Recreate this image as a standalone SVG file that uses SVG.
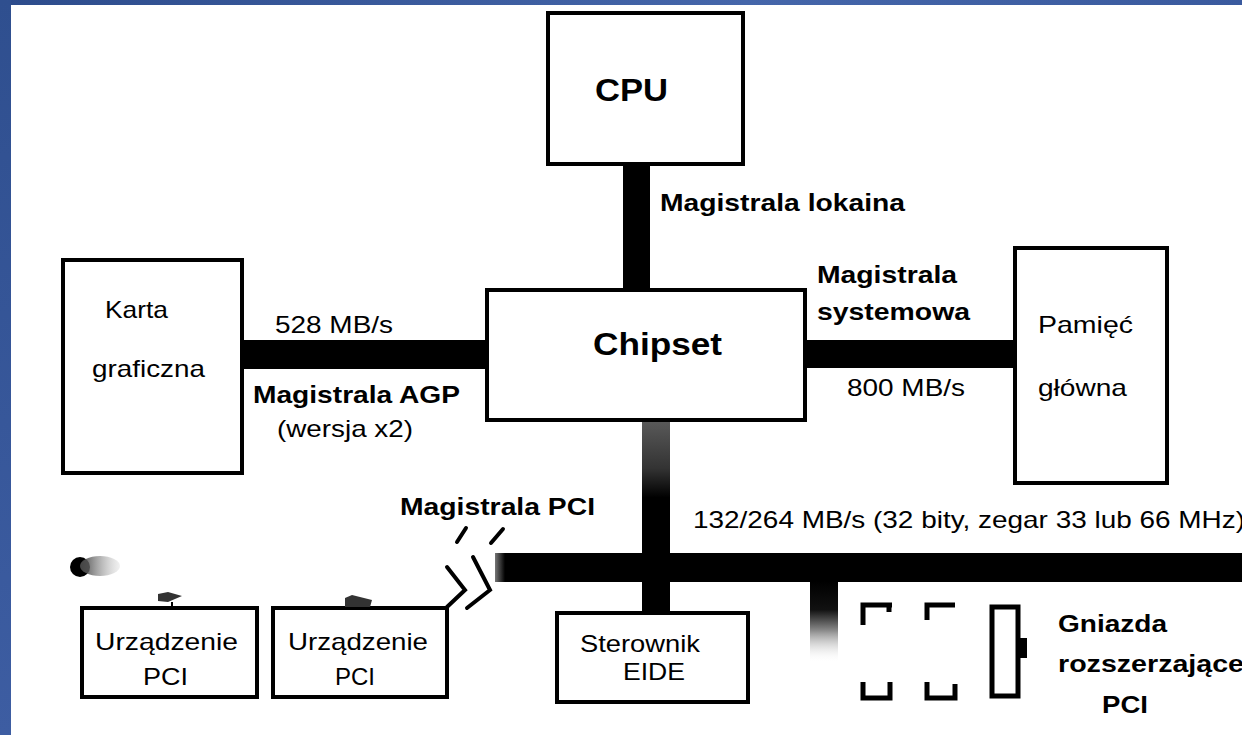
<svg xmlns="http://www.w3.org/2000/svg" width="1242" height="735" viewBox="0 0 1242 735">
<defs>
<linearGradient id="blue" x1="0" y1="0" x2="1" y2="0">
<stop offset="0" stop-color="#2d4c8c"/>
<stop offset="0.6" stop-color="#4566aa"/>
<stop offset="1" stop-color="#3a5a9e"/>
</linearGradient>
<linearGradient id="blueV" x1="0" y1="0" x2="0" y2="1">
<stop offset="0" stop-color="#2f4f8f"/>
<stop offset="1" stop-color="#3d5da2"/>
</linearGradient>
<linearGradient id="pciDown" x1="0" y1="0" x2="0" y2="1">
<stop offset="0" stop-color="#5a5a5a"/>
<stop offset="0.25" stop-color="#333"/>
<stop offset="0.4" stop-color="#000"/>
<stop offset="1" stop-color="#000"/>
</linearGradient>
<linearGradient id="stubFade" x1="0" y1="0" x2="0" y2="1">
<stop offset="0" stop-color="#000"/>
<stop offset="0.35" stop-color="#111"/>
<stop offset="0.6" stop-color="#888"/>
<stop offset="1" stop-color="#fff" stop-opacity="0"/>
</linearGradient>
<linearGradient id="blobFade" x1="0" y1="0" x2="1" y2="0">
<stop offset="0" stop-color="#444"/>
<stop offset="1" stop-color="#bbb" stop-opacity="0.2"/>
</linearGradient>
<linearGradient id="busEnd" x1="0" y1="0" x2="1" y2="0">
<stop offset="0" stop-color="#777"/>
<stop offset="1" stop-color="#000"/>
</linearGradient>
</defs>
<style>
.box{fill:#fff;stroke:#000;stroke-width:4}
.bus{fill:#000}
.t{font-family:"Liberation Sans",Arial,sans-serif;font-size:24px;fill:#000}
.b{font-family:"Liberation Sans",Arial,sans-serif;font-size:24px;font-weight:bold;fill:#000}
.big{font-size:31px}
.zz{fill:none;stroke:#000;stroke-width:4;stroke-linecap:round}
</style>
<rect x="0" y="0" width="1242" height="735" fill="#fff"/>
<rect x="0" y="0" width="1242" height="5" fill="url(#blue)"/>
<rect x="0" y="0" width="11" height="735" fill="url(#blueV)"/>

<g id="connectors">
<rect class="bus" x="623" y="164" width="27" height="127"/>
<rect class="bus" x="242" y="340" width="246" height="29"/>
<rect class="bus" x="804" y="340" width="212" height="28"/>
<rect x="642" y="420" width="28" height="194" fill="url(#pciDown)"/>
<rect class="bus" x="503" y="553" width="739" height="29"/>
<rect x="495" y="553" width="10" height="29" fill="url(#busEnd)"/>
<rect x="810" y="581" width="28" height="82" fill="url(#stubFade)"/>
<path class="zz" d="M457 542 L466 528 M491 543 L503 529"/>
<path class="zz" d="M447 567 L465 590 L447 607"/>
<path class="zz" d="M473 557 L490 590 L467 608"/>
</g>

<g id="cpu">
<rect class="box" x="548" y="13" width="195" height="151"/>
<text class="b big" x="595" y="101" textLength="73" lengthAdjust="spacingAndGlyphs">CPU</text>
</g>
<text class="b" x="660" y="211" textLength="245" lengthAdjust="spacingAndGlyphs">Magistrala lokaina</text>

<g id="chipset">
<rect class="box" x="487" y="290" width="318" height="130"/>
<text class="b big" x="593" y="355" textLength="129" lengthAdjust="spacingAndGlyphs">Chipset</text>
</g>

<g id="karta">
<rect class="box" x="63" y="260" width="179" height="213"/>
<text class="t" x="105" y="318" textLength="63" lengthAdjust="spacingAndGlyphs">Karta</text>
<text class="t" x="92" y="377" textLength="113" lengthAdjust="spacingAndGlyphs">graficzna</text>
</g>
<text class="t" x="275" y="333" textLength="118" lengthAdjust="spacingAndGlyphs">528 MB/s</text>
<text class="b" x="253" y="403" textLength="207" lengthAdjust="spacingAndGlyphs">Magistrala AGP</text>
<text class="t" x="277" y="437" textLength="136" lengthAdjust="spacingAndGlyphs">(wersja x2)</text>

<g id="pamiec">
<rect class="box" x="1015" y="248" width="152" height="235"/>
<text class="t" x="1038" y="333" textLength="95" lengthAdjust="spacingAndGlyphs">Pamięć</text>
<text class="t" x="1038" y="396" textLength="89" lengthAdjust="spacingAndGlyphs">główna</text>
</g>
<text class="b" x="817" y="283" textLength="140" lengthAdjust="spacingAndGlyphs">Magistrala</text>
<text class="b" x="817" y="320" textLength="153" lengthAdjust="spacingAndGlyphs">systemowa</text>
<text class="t" x="847" y="396" textLength="118" lengthAdjust="spacingAndGlyphs">800 MB/s</text>

<text class="b" x="400" y="515" textLength="195" lengthAdjust="spacingAndGlyphs">Magistrala PCI</text>
<text class="t" x="693" y="528" textLength="552" lengthAdjust="spacingAndGlyphs">132/264 MB/s (32 bity, zegar 33 lub 66 MHz)</text>

<g id="eide">
<rect class="box" x="557" y="613" width="191" height="89"/>
<text class="t" x="580" y="652" textLength="120" lengthAdjust="spacingAndGlyphs">Sterownik</text>
<text class="t" x="623" y="680" textLength="62" lengthAdjust="spacingAndGlyphs">EIDE</text>
</g>

<g id="pci1">
<rect class="box" x="82" y="608" width="175" height="89"/>
<text class="t" x="95" y="650" textLength="143" lengthAdjust="spacingAndGlyphs">Urządzenie</text>
<text class="t" x="143" y="685" textLength="45" lengthAdjust="spacingAndGlyphs">PCI</text>
</g>
<g id="pci2">
<rect class="box" x="273" y="608" width="174" height="89"/>
<text class="t" x="288" y="650" textLength="140" lengthAdjust="spacingAndGlyphs">Urządzenie</text>
<text class="t" x="335" y="685" textLength="40" lengthAdjust="spacingAndGlyphs">PCI</text>
</g>

<g id="marks">
<circle cx="80" cy="567" r="10" fill="#000"/>
<ellipse cx="100" cy="566" rx="20" ry="10" fill="url(#blobFade)"/>
<path d="M158 594 L168 592 L182 596 L168 602 L158 601 Z" fill="#333"/>
<line x1="172" y1="602" x2="172" y2="608" stroke="#000" stroke-width="2"/>
<path d="M345 598 L352 595 L372 600 L370 607 L345 607 Z" fill="#333"/>
</g>

<g id="gniazda">
<path d="M863 625 V605 H892 M889 605 V612" fill="none" stroke="#000" stroke-width="5"/>
<path d="M863 682 V698 H890 V682" fill="none" stroke="#000" stroke-width="5"/>
<path d="M927 620 V605 H955" fill="none" stroke="#000" stroke-width="5"/>
<path d="M927 682 V698 H955 V684" fill="none" stroke="#000" stroke-width="5"/>
<rect x="992" y="607" width="26" height="89" fill="#fff" stroke="#000" stroke-width="5"/>
<rect x="1019" y="638" width="8" height="20" fill="#000"/>
<text class="b" x="1058" y="632" textLength="109" lengthAdjust="spacingAndGlyphs">Gniazda</text>
<text class="b" x="1058" y="672" textLength="186" lengthAdjust="spacingAndGlyphs">rozszerzające</text>
<text class="b" x="1102" y="713" textLength="46" lengthAdjust="spacingAndGlyphs">PCI</text>
</g>
</svg>
